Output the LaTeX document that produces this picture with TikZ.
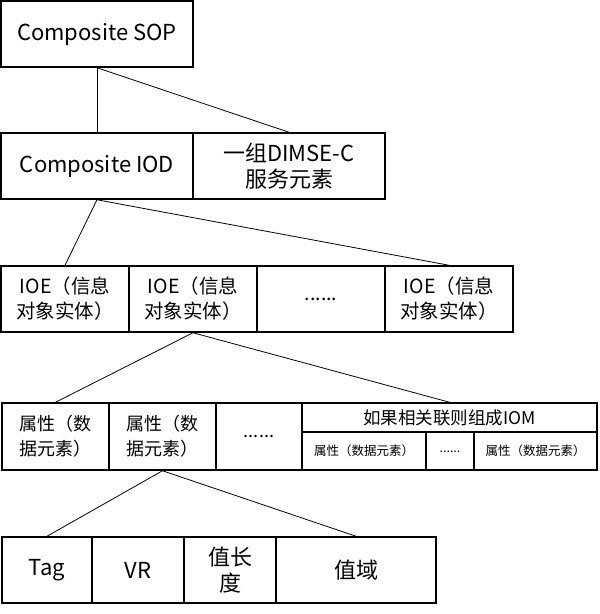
\documentclass[tikz,border=0pt]{standalone}
\usepackage{fontspec}
\setmainfont{Noto Sans CJK SC}
\usepackage{tikz}

\begin{document}
\begin{tikzpicture}[x=1pt,y=-1pt,
  cell/.style={draw,line width=1.5pt,inner sep=0pt,align=center},
  link/.style={line width=0.8pt},
  txtL/.style={font=\fontsize{22}{26}\selectfont},
  txtM/.style={font=\fontsize{19.5}{25}\selectfont},
  txtA/.style={font=\fontsize{18}{25}\selectfont},
  txtS/.style={font=\fontsize{12.5}{15}\selectfont}]

\useasboundingbox (0,0) rectangle (600,614);

% SOP
\node[cell,txtL,minimum width=192pt,minimum height=66pt] (sop) at (97,34) {Composite SOP};

% IOD and DIMSE-C
\node[cell,txtL,minimum width=192pt,minimum height=66pt] (iod) at (97,166) {Composite IOD};
\node[cell,txtL,minimum width=192pt,minimum height=66pt] (dimse) at (289,166) {一组DIMSE-C\\服务元素};

% IOE row
\node[cell,txtM,minimum width=128pt,minimum height=66pt] (ioeA) at (65,299) {IOE（信息\\对象实体）};
\node[cell,txtM,minimum width=128pt,minimum height=66pt] (ioeB) at (193,299) {IOE（信息\\对象实体）};
\node[cell,txtM,minimum width=128pt,minimum height=66pt] (ioeC) at (321,299) {......};
\node[cell,txtM,minimum width=128pt,minimum height=66pt] (ioeD) at (449,299) {IOE（信息\\对象实体）};

% Attribute row
\node[cell,txtA,minimum width=107pt,minimum height=67pt] (attrA) at (55.5,436.5) {属性（数\\据元素）};
\node[cell,txtA,minimum width=107pt,minimum height=67pt] (attrB) at (162.5,436.5) {属性（数\\据元素）};
\node[cell,txtA,minimum width=86pt,minimum height=67pt] (attrC) at (259,436.5) {......};
\node[cell,font=\fontsize{17.5}{20}\selectfont,minimum width=295pt,minimum height=29pt] (iom) at (449.5,417.5) {如果相关联则组成IOM};
\node[cell,txtS,minimum width=124pt,minimum height=38pt] (subA) at (364,451) {\raisebox{-3pt}{属性（数据元素）}};
\node[cell,txtS,minimum width=48pt,minimum height=38pt] (subB) at (450,451) {\raisebox{-3pt}{......}};
\node[cell,txtS,minimum width=123pt,minimum height=38pt] (subC) at (535.5,451) {\raisebox{-3pt}{属性（数据元素）}};

% Data element fields
\node[cell,txtL,minimum width=90pt,minimum height=66pt] (tag) at (47,570) {Tag};
\node[cell,txtL,minimum width=92pt,minimum height=66pt] (vr) at (138,570) {VR};
\node[cell,txtL,minimum width=92pt,minimum height=66pt] (vlen) at (230,570) {值长\\度};
\node[cell,txtL,minimum width=160pt,minimum height=66pt] (vfield) at (356,570) {值域};

% Links
\draw[link] (sop.south) -- (iod.north);
\draw[link] (sop.south) -- (dimse.north);
\draw[link] (iod.south) -- (ioeA.north);
\draw[link] (iod.south) -- (ioeD.north);
\draw[link] (ioeB.south) -- (attrA.north);
\draw[link] (ioeB.south) -- (iom.north);
\draw[link] (attrB.south) -- (tag.north);
\draw[link] (attrB.south) -- (vfield.north);

\end{tikzpicture}
\end{document}
